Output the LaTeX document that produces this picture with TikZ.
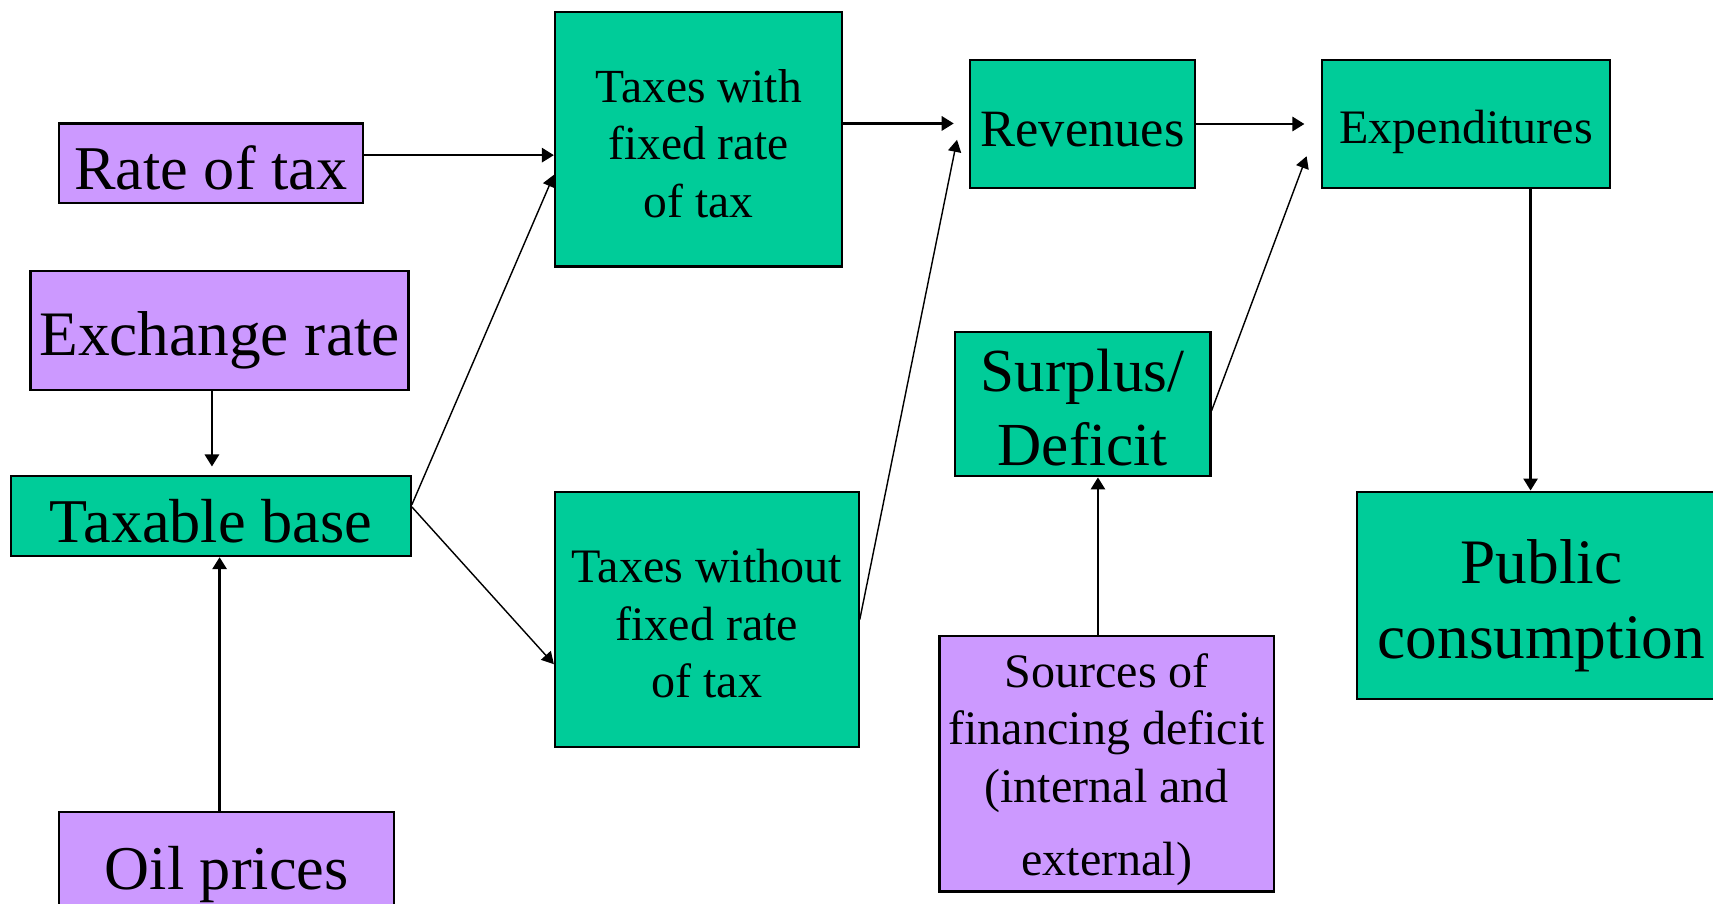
\documentclass[tikz,border=0pt]{standalone}
\usepackage{fontspec}
\setmainfont{Liberation Serif}
\usetikzlibrary{arrows.meta}
\definecolor{boxpurple}{HTML}{CC99FF}
\definecolor{boxgreen}{HTML}{00CC99}
\newcommand\topstrut[1]{\rule{0pt}{#1}}
\tikzset{
  pbox/.style={draw=black, line width=2pt, fill=boxpurple, inner sep=0pt, align=center},
  gbox/.style={draw=black, line width=2pt, fill=boxgreen, inner sep=0pt, align=center},
  arr/.style={line width=2.2pt, -{Triangle[length=11pt,width=13pt]}},
  thinarr/.style={line width=1.3pt, -{Triangle[length=11pt,width=12pt]}},
}
\begin{document}
\begin{tikzpicture}[x=1pt,y=-1pt]
\useasboundingbox (0,0) rectangle (1568,827);
\fill[white] (0,0) rectangle (1568,827);
% nodes
\node[pbox, minimum width=278pt, minimum height=73pt, font=\fontsize{57}{64}\selectfont] (rate) at (193,149.5) {\topstrut{49.3pt}Rate of tax};
\node[pbox, minimum width=346pt, minimum height=109pt, font=\fontsize{58}{64}\selectfont] (exch) at (201,302.5) {\topstrut{59pt}Exchange rate};
\node[gbox, minimum width=366pt, minimum height=73pt, font=\fontsize{57}{64}\selectfont] (tb) at (193,472.5) {\topstrut{49.3pt}Taxable base};
\node[pbox, minimum width=307pt, minimum height=106pt, font=\fontsize{57}{64}\selectfont] (oil) at (207.5,796) {\topstrut{49.3pt}Oil prices};
\node[gbox, minimum width=263pt, minimum height=233pt, font=\fontsize{43.5}{52.5}\selectfont] (tw) at (639.5,127.5) {\topstrut{38pt}Taxes with\\fixed rate\\of tax};
\node[gbox, minimum width=278pt, minimum height=234pt, font=\fontsize{44}{52.5}\selectfont] (two) at (647,567) {\topstrut{38.4pt}Taxes without\\fixed rate\\of tax};
\node[gbox, minimum width=206pt, minimum height=117pt, font=\fontsize{48}{56}\selectfont] (rev) at (991,113.5) {\topstrut{41.8pt}Revenues};
\node[gbox, minimum width=264pt, minimum height=117pt, font=\fontsize{44}{52}\selectfont] (exp) at (1342,113.5) {\topstrut{44.4pt}Expenditures};
\node[gbox, minimum width=234pt, minimum height=132pt, font=\fontsize{56}{68}\selectfont] (sur) at (991,370) {\topstrut{44.9pt}Surplus/\\Deficit};
\node[pbox, minimum width=306pt, minimum height=234pt, font=\fontsize{44}{52.5}\selectfont] (src) at (1013,699) {\topstrut{42.4pt}Sources of\\financing deficit\\(internal and\\[15pt]external)};
\node[gbox, minimum width=338pt, minimum height=190pt, font=\fontsize{58}{68}\selectfont] (pub) at (1411,545) {\topstrut{59.3pt}Public\\consumption};
% helper coordinates
\coordinate (r1) at ([yshift=7.5pt]rate.east);
\coordinate (e1) at ([xshift=-7pt]exch.south);
\coordinate (o1) at ([xshift=-6.5pt]oil.north);
\coordinate (t1) at ([yshift=10.5pt]tb.east);
\coordinate (t2) at ([yshift=8.5pt]tb.east);
\coordinate (tw1) at ([yshift=-32.5pt]tw.west);
\coordinate (two1) at ([yshift=-41pt]two.west);
\coordinate (tw2) at ([yshift=14.5pt]tw.east);
\coordinate (rev1) at ([xshift=-11pt,yshift=-14.5pt]rev.west);
\coordinate (sur1) at ([yshift=-6pt]sur.east);
\coordinate (exp1) at ([xshift=-13pt,yshift=-29.5pt]exp.west);
\coordinate (s1) at ([xshift=-8pt]src.north);
\coordinate (x1) at ([xshift=59pt]exp.south);
% connectors
\draw[arr] (r1) -- (r1 -| tw.west);
\draw[arr, shorten >=8pt] (e1) -- (e1 |- tb.north);
\draw[arr] (o1) -- (o1 |- tb.south);
\draw[thinarr] (t1) -- (tw1);
\draw[thinarr] (t2) -- (two1);
\draw[arr, shorten >=14pt] (tw2) -- (tw2 -| rev.west);
\draw[thinarr] (two.east) -- (rev1);
\draw[arr, shorten >=15pt] (rev.east) -- (exp.west);
\draw[thinarr] (sur1) -- (exp1);
\draw[arr] (s1) -- (s1 |- sur.south);
\draw[arr] (x1) -- (x1 |- pub.north);
\end{tikzpicture}
\end{document}
